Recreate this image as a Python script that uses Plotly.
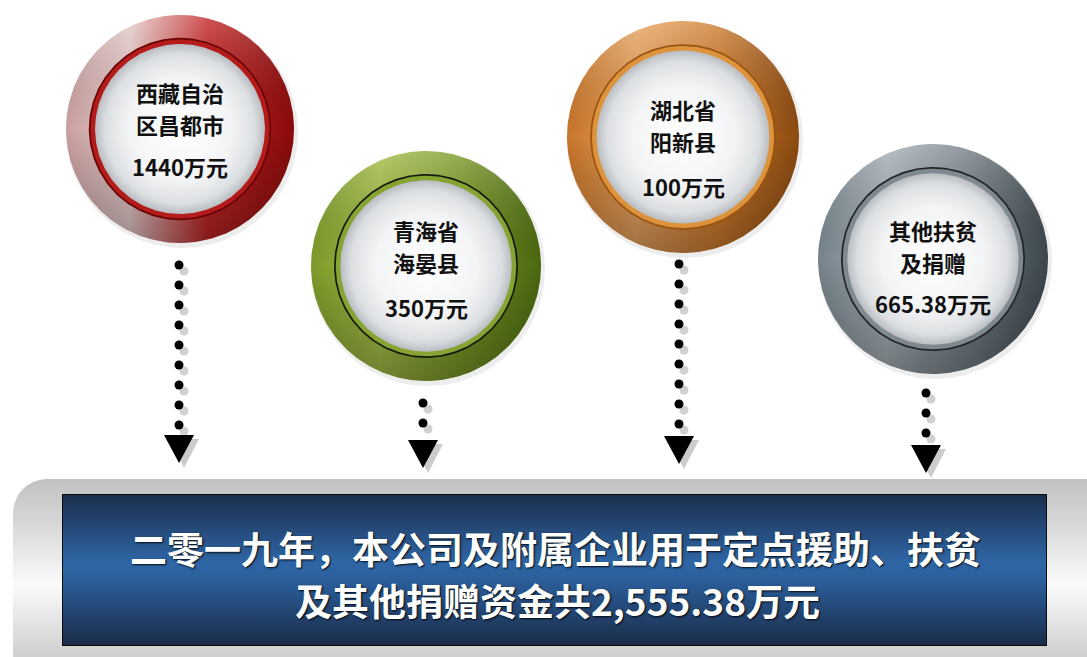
import numpy as np
import plotly.graph_objects as go

W, H = 1087, 657

# ---------------- data ----------------
label_line1 = ["西藏自治", "青海省", "湖北省", "其他扶贫"]
label_line2 = ["区昌都市", "海晏县", "阳新县", "及捐赠"]
amounts = [1440, 350, 100, 665.38]
unit = "万元"
summary_line1 = "二零一九年，本公司及附属企业用于定点援助、扶贫"
summary_prefix = "及其他捐赠资金共"
total = round(sum(amounts), 2)

# ---------------- layout (pixel positions) ----------------
cx = [180, 426, 683, 933]
cy = [129, 266, 137, 259]
R = [114, 115, 116, 115]
line1_y = [92, 230, 109, 230]
line2_y = [124, 262, 141, 262]
amount_y = [166, 307, 186, 303]
arrow_x = [179, 423, 679, 926]
dot_top = [265, 403, 264, 393]
dot_n = [9, 2, 9, 3]
tri_top = [435, 440, 436, 445]

palettes = [
    dict(h=[[0, '#caa0a0'], [0.28, '#e6cccc'], [0.62, '#c42626'], [1, '#8a0a0a']],
         line='#6a0404', band='#b41c1c'),
    dict(h=[[0, '#7d9a2a'], [0.3, '#a2bc46'], [0.65, '#7a9826'], [1, '#4a6810']],
         line='#161a0c', band='#86a432'),
    dict(h=[[0, '#c8752a'], [0.3, '#e8a460'], [0.65, '#cf7c2e'], [1, '#8a4a10']],
         line='#9a5410', band='#dd923c'),
    dict(h=[[0, '#76838b'], [0.3, '#a6b0b6'], [0.65, '#748088'], [1, '#3c464c']],
         line='#20262a', band='#7e8a90'),
]

FONT = "Noto Sans CJK SC"

fig = go.Figure()


def circle_xy(x0, y0, r, n=241):
    t = np.linspace(0, 2 * np.pi, n)
    return x0 + r * np.cos(t), y0 + r * np.sin(t)


def add_poly(x, y, color=None, gradient=None):
    kw = dict(x=x, y=y, mode='lines', fill='toself', line=dict(width=0),
              hoverinfo='skip', showlegend=False)
    if gradient is not None:
        kw['fillgradient'] = gradient
        kw['fillcolor'] = 'rgba(0,0,0,0)'
    else:
        kw['fillcolor'] = color
    fig.add_trace(go.Scatter(**kw))


def rounded_rect(x0, y0, x1, y1, r, n=16):
    xs, ys = [], []
    corners = [(x1 - r, y0 + r, -np.pi / 2, 0), (x1 - r, y1 - r, 0, np.pi / 2),
               (x0 + r, y1 - r, np.pi / 2, np.pi), (x0 + r, y0 + r, np.pi, 1.5 * np.pi)]
    for ccx, ccy, a0, a1 in corners:
        t = np.linspace(a0, a1, n)
        xs += list(ccx + r * np.cos(t))
        ys += list(ccy + r * np.sin(t))
    xs.append(xs[0]); ys.append(ys[0])
    return xs, ys


# ---------------- banner ----------------
bx, by = rounded_rect(13, 479, 1120, 690, 34)
add_poly(bx, by, gradient=dict(type='vertical', colorscale=[
    [0, '#b8b8b8'], [0.2, '#d4d4d4'], [0.5, '#fbfbfb'], [0.8, '#d6d6d6'], [1, '#c2c2c2']]))

add_poly([62, 1047, 1047, 62, 62], [494, 494, 646, 646, 494], color='#0c0c0c')
add_poly([63, 1046, 1046, 63, 63], [495, 495, 645, 645, 495],
         gradient=dict(type='vertical', colorscale=[
             [0, '#1a2c48'], [0.45, '#2c609e'], [0.55, '#2f66a6'], [1, '#1b2e4c']]))

# ---------------- circles ----------------
for i in range(4):
    p = palettes[i]
    r = R[i]
    x, y = circle_xy(cx[i] + 2, cy[i] + 3, r + 2)
    add_poly(x, y, color='rgba(0,0,0,0.07)')
    x, y = circle_xy(cx[i], cy[i], r)
    add_poly(x, y, gradient=dict(type='horizontal', colorscale=p['h']))
    # vertical shading: colorscale 0 = bottom of screen
    add_poly(x, y, gradient=dict(type='vertical', colorscale=[
        [0, 'rgba(0,0,0,0.32)'], [0.5, 'rgba(0,0,0,0)'], [1, 'rgba(255,255,255,0.22)']]))
    x, y = circle_xy(cx[i], cy[i], r * 0.80)
    add_poly(x, y, color=p['line'])
    x, y = circle_xy(cx[i], cy[i], r * 0.785)
    add_poly(x, y, color=p['band'])
    x, y = circle_xy(cx[i], cy[i], r * 0.745)
    add_poly(x, y, gradient=dict(type='radial', colorscale=[
        [0, '#ffffff'], [0.6, '#f3f4f5'], [0.88, '#dcdfe2'], [1, '#b9bdc1']]))

    for txt, ty, sz in [(label_line1[i], line1_y[i], 22), (label_line2[i], line2_y[i], 22),
                        (f"{amounts[i]:g}{unit}", amount_y[i], 22)]:
        fig.add_annotation(x=cx[i], y=ty, text=txt, showarrow=False,
                           font=dict(family=FONT, size=sz, color='#111111', weight='bold'),
                           xanchor='center', yanchor='middle')

# ---------------- arrows ----------------
for i in range(4):
    ys = [dot_top[i] + 20 * k for k in range(dot_n[i])]
    xs = [arrow_x[i]] * dot_n[i]
    fig.add_trace(go.Scatter(x=[v + 5 for v in xs], y=[v + 6 for v in ys], mode='markers',
                             marker=dict(size=9, color='#d0d0d0'), hoverinfo='skip', showlegend=False))
    fig.add_trace(go.Scatter(x=xs, y=ys, mode='markers',
                             marker=dict(size=9, color='#000000'), hoverinfo='skip', showlegend=False))
    t = tri_top[i]
    a = arrow_x[i]
    add_poly([a - 10, a + 15 + 5, a + 5, a - 10], [t + 4, t + 4, t + 33, t + 4], color='#cccccc')
    add_poly([a - 15, a + 15, a, a - 15], [t, t, t + 28, t], color='#000000')

# ---------------- banner text ----------------
shadow = '1px 1px 2px rgba(0,0,0,0.9)'
fig.add_annotation(x=555, y=548, text=summary_line1, showarrow=False,
                   font=dict(family=FONT, size=37, color='#ffffff', weight='bold', shadow=shadow))
fig.add_annotation(x=557, y=600, text=f"{summary_prefix}{total:,.2f}{unit}", showarrow=False,
                   font=dict(family=FONT, size=37, color='#ffffff', weight='bold', shadow=shadow))

fig.update_xaxes(range=[0, W], visible=False, fixedrange=True)
fig.update_yaxes(range=[H, 0], visible=False, fixedrange=True)
fig.update_layout(width=W, height=H, margin=dict(l=0, r=0, t=0, b=0),
                  paper_bgcolor='white', plot_bgcolor='white', showlegend=False)

fig.write_html("out.html", config={'displayModeBar': False},
               post_script="document.body.style.margin='0';")
